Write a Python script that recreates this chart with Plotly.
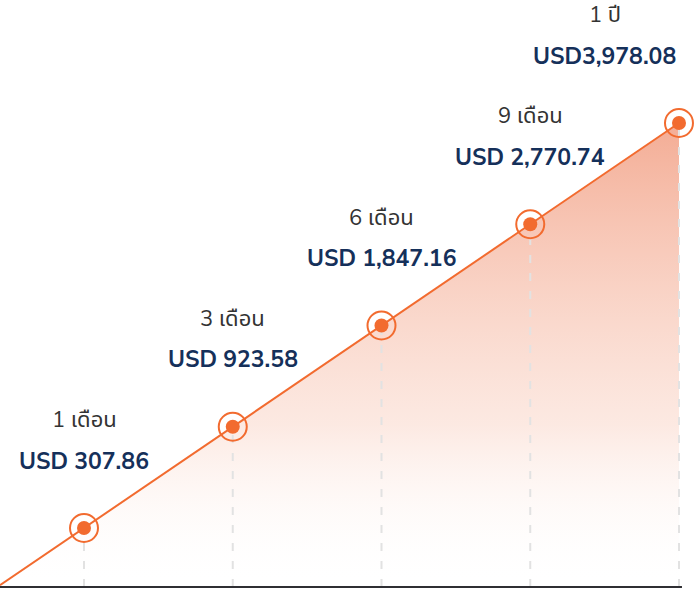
import plotly.graph_objects as go

# ---- data ----
periods = ["1 เดือน", "3 เดือน", "6 เดือน", "9 เดือน", "1 ปี"]
values_usd = ["USD 307.86", "USD 923.58", "USD 1,847.16", "USD 2,770.74", "USD3,978.08"]
step = [1, 2, 3, 4, 5]          # position of each milestone on the rising line

# ---- layout constants ----
W, H = 695, 590
X_MIN, X_MAX = 0.4353, 5.1076
Y_MIN, Y_MAX = 0.3877, 6.2148
BASE = 0.417
ORANGE = "#f26b2f"
NAVY = "#15305a"
GREY_TXT = "#333333"
FONT = "Nunito Sans, Noto Sans, Noto Sans Thai, Open Sans, sans-serif"

fig = go.Figure()

# filled rising line (starts at the left edge of the plot)
line_x = [X_MIN] + step
line_y = [X_MIN] + step
fig.add_trace(go.Scatter(
    x=line_x, y=line_y, mode="lines",
    line=dict(color=ORANGE, width=2),
    fill="tozeroy",
    fillgradient=dict(type="vertical", start=BASE, stop=step[-1],
                      colorscale=[[0, "rgba(255,255,255,0)"], [0.35, "rgba(250,215,202,0.55)"],
                                  [1, "rgba(243,168,143,0.95)"]]),
    hoverinfo="skip", showlegend=False))

# dashed drop lines
dx, dy = [], []
for s in step:
    dx += [s, s, None]
    dy += [BASE, s, None]
fig.add_trace(go.Scatter(x=dx, y=dy, mode="lines",
                         line=dict(color="#e2e2e2", width=2, dash="8px,10px"),
                         hoverinfo="skip", showlegend=False))

# markers: ring + dot
fig.add_trace(go.Scatter(x=step, y=step, mode="markers",
                         marker=dict(symbol="circle-open", size=28, color=ORANGE,
                                     line=dict(width=2, color=ORANGE)),
                         hoverinfo="skip", showlegend=False))
fig.add_trace(go.Scatter(x=step, y=step, mode="markers",
                         marker=dict(symbol="circle", size=14, color=ORANGE),
                         hoverinfo="skip", showlegend=False))

# baseline
fig.add_shape(type="line", x0=X_MIN, x1=step[-1] + 0.02, y0=BASE, y1=BASE,
              line=dict(color="#2f2f33", width=2), layer="above")

# labels
for i, s in enumerate(step):
    xs = -74 if i == len(step) - 1 else 0
    fig.add_annotation(x=s, y=s, text=periods[i], showarrow=False, xshift=xs, yshift=108,
                       font=dict(family=FONT, size=22, color=GREY_TXT))
    fig.add_annotation(x=s, y=s, text="<b>" + values_usd[i] + "</b>", showarrow=False,
                       xshift=xs, yshift=67,
                       font=dict(family=FONT, size=23, color=NAVY))

fig.update_layout(
    width=W, height=H,
    margin=dict(l=0, r=0, t=0, b=0),
    paper_bgcolor="white", plot_bgcolor="white",
    xaxis=dict(range=[X_MIN, X_MAX], visible=False, fixedrange=True),
    yaxis=dict(range=[Y_MIN, Y_MAX], visible=False, fixedrange=True),
    showlegend=False,
)

fig.write_html("out.html", config={"displayModeBar": False},
               post_script="document.body.style.margin='0';document.body.style.overflow='hidden';")
